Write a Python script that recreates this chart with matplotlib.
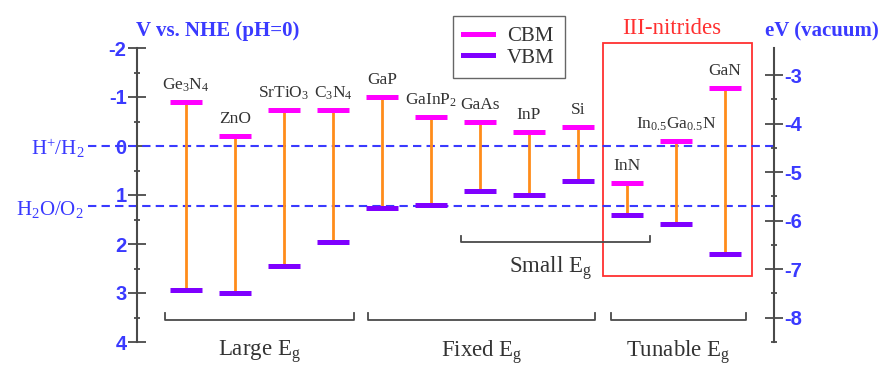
import numpy as np
import matplotlib
matplotlib.use('Agg')
import matplotlib.pyplot as plt
from matplotlib.lines import Line2D
from matplotlib.patches import Rectangle

plt.rcParams['font.family'] = 'Liberation Serif'
plt.rcParams['mathtext.fontset'] = 'custom'
plt.rcParams['mathtext.rm'] = 'Liberation Serif'
plt.rcParams['mathtext.it'] = 'Liberation Serif:italic'
plt.rcParams['mathtext.bf'] = 'Liberation Serif:bold'
plt.rcParams['axes.unicode_minus'] = False

# band edges, V vs NHE
materials = [r'Ge$_3$N$_4$', 'ZnO', r'SrTiO$_3$', r'C$_3$N$_4$', 'GaP', r'GaInP$_2$',
             'GaAs', 'InP', 'Si', 'InN', r'In$_{0.5}$Ga$_{0.5}$N', 'GaN']
cbm = [-0.90, -0.20, -0.73, -0.73, -1.00, -0.59, -0.49, -0.29, -0.39, 0.76, -0.10, -1.19]
vbm = [2.94, 3.00, 2.45, 1.96, 1.26, 1.20, 0.91, 1.00, 0.71, 1.41, 1.60, 2.20]
redox_levels = [0.0, 1.23]
redox_names = [r'H$^{+}$/H$_2$', r'H$_2$O/O$_2$']
nhe_to_vac = -4.44

groups = ['Large E$_{\\rm g}$', 'Fixed E$_{\\rm g}$', 'Tunable E$_{\\rm g}$']
group_spans = [(0.57, 4.43), (4.72, 9.35), (9.67, 12.43)]

blue = '#3a3aff'
grey = '#4a4a4a'
txt = '#333333'

fig = plt.figure(figsize=(8.81, 3.65), dpi=100)
ax = fig.add_axes([137/881, 23/365, 637/881, 294/365])
ax.set_xlim(0, 13)
ax.set_ylim(4, -2)

x = np.arange(1, len(materials) + 1)
ax.vlines(x, cbm, vbm, color='#ff8c1a', lw=2.0, zorder=3)
ax.hlines(cbm, x - 0.33, x + 0.33, color='#ff00ff', lw=3.6, zorder=4)
ax.hlines(vbm, x - 0.33, x + 0.33, color='#7f00ff', lw=3.6, zorder=4)
for xi, c, name in zip(x, cbm, materials):
    ax.text(xi, c - 0.26, name, ha='center', va='baseline', fontsize=12.5, color=txt)

# water redox levels
for lev, name in zip(redox_levels, redox_names):
    ax.plot([-1.0, 13.0], [lev, lev], color=blue, lw=1.5, ls=(0, (4, 2.5)),
            clip_on=False, zorder=2)
    ax.text(-1.08, lev + 0.06, name, ha='right', va='center', fontsize=15, color=blue)

# brackets
def bracket(x0, x1, y, h):
    ax.plot([x0, x0, x1, x1], [y - h, y, y, y - h], color=grey, lw=1.3, clip_on=False)

for (x0, x1), g in zip(group_spans, groups):
    bracket(x0, x1, 3.55, 0.14)
    ax.text((x0 + x1) / 2, 4.2, g, ha='center', va='center', fontsize=16.5, color=txt)
bracket(6.61, 10.47, 1.96, 0.13)
ax.text(8.43, 2.5, 'Small E$_{\\rm g}$', ha='center', va='center', fontsize=16.5, color=txt)

# III-nitrides box
ax.add_patch(Rectangle((9.51, -2.1), 3.04, 4.75, fill=False, ec='#ff3030', lw=1.3,
                       clip_on=False))
ax.text(10.92, -2.4, 'III-nitrides', ha='center', va='center', fontsize=16.5, color='#ff3030')

# axes styling
for s in ['top', 'bottom', 'right']:
    ax.spines[s].set_visible(False)
ax.spines['left'].set_color(grey)
ax.spines['left'].set_linewidth(1.5)
ax.set_xticks([])
ax.set_yticks(np.arange(-2, 5))
ax.set_yticks(np.arange(-1.5, 4, 1.0), minor=True)
ax.set_yticklabels(['-2', '-1', '0', '1', '2', '3', '4'])
ax.tick_params(axis='y', which='major', direction='inout', length=13, width=1.3,
               color=grey, labelcolor=blue, pad=1)
ax.tick_params(axis='y', which='minor', direction='inout', length=5, width=1.3, color=grey)
for t in ax.get_yticklabels():
    t.set_fontfamily('Liberation Sans')
    t.set_fontweight('bold')
    t.set_fontsize(14.5)
ax.text(1.65, -2.35, 'V vs. NHE (pH=0)', ha='center', va='center', fontsize=15,
        fontweight='bold', color=blue)

ax2 = ax.twinx()
ax2.set_ylim(nhe_to_vac - 4, nhe_to_vac + 2)
for s in ['top', 'bottom', 'left']:
    ax2.spines[s].set_visible(False)
ax2.spines['right'].set_color(grey)
ax2.spines['right'].set_linewidth(1.5)
ax2.set_yticks(np.arange(-8, -2))
ax2.set_yticks(np.arange(-8.5, -2.5, 1.0), minor=True)
ax2.set_yticklabels([str(v) for v in range(-8, -2)])
ax2.tick_params(axis='y', which='major', direction='inout', length=13, width=1.3,
                color=grey, labelcolor=blue, pad=1)
ax2.tick_params(axis='y', which='minor', direction='inout', length=5, width=1.3, color=grey)
for t in ax2.get_yticklabels():
    t.set_fontfamily('Liberation Sans')
    t.set_fontweight('bold')
    t.set_fontsize(14.5)
ax.text(13.98, -2.33, 'eV (vacuum)', ha='center', va='center', fontsize=15,
        fontweight='bold', color=blue)

handles = [Line2D([], [], color='#ff00ff', lw=3.6), Line2D([], [], color='#7f00ff', lw=3.6)]
leg = fig.legend(handles, ['CBM', 'VBM'], loc='upper left', bbox_to_anchor=(453/881, 1 - 16/365),
                 borderaxespad=0, fancybox=False, edgecolor='#666666', fontsize=15,
                 handlelength=1.4, handletextpad=0.7, borderpad=0.5, labelspacing=0.1,
                 framealpha=1)
leg.get_frame().set_linewidth(1.0)
for t in leg.get_texts():
    t.set_color(txt)

fig.savefig('out.png', dpi=100)
